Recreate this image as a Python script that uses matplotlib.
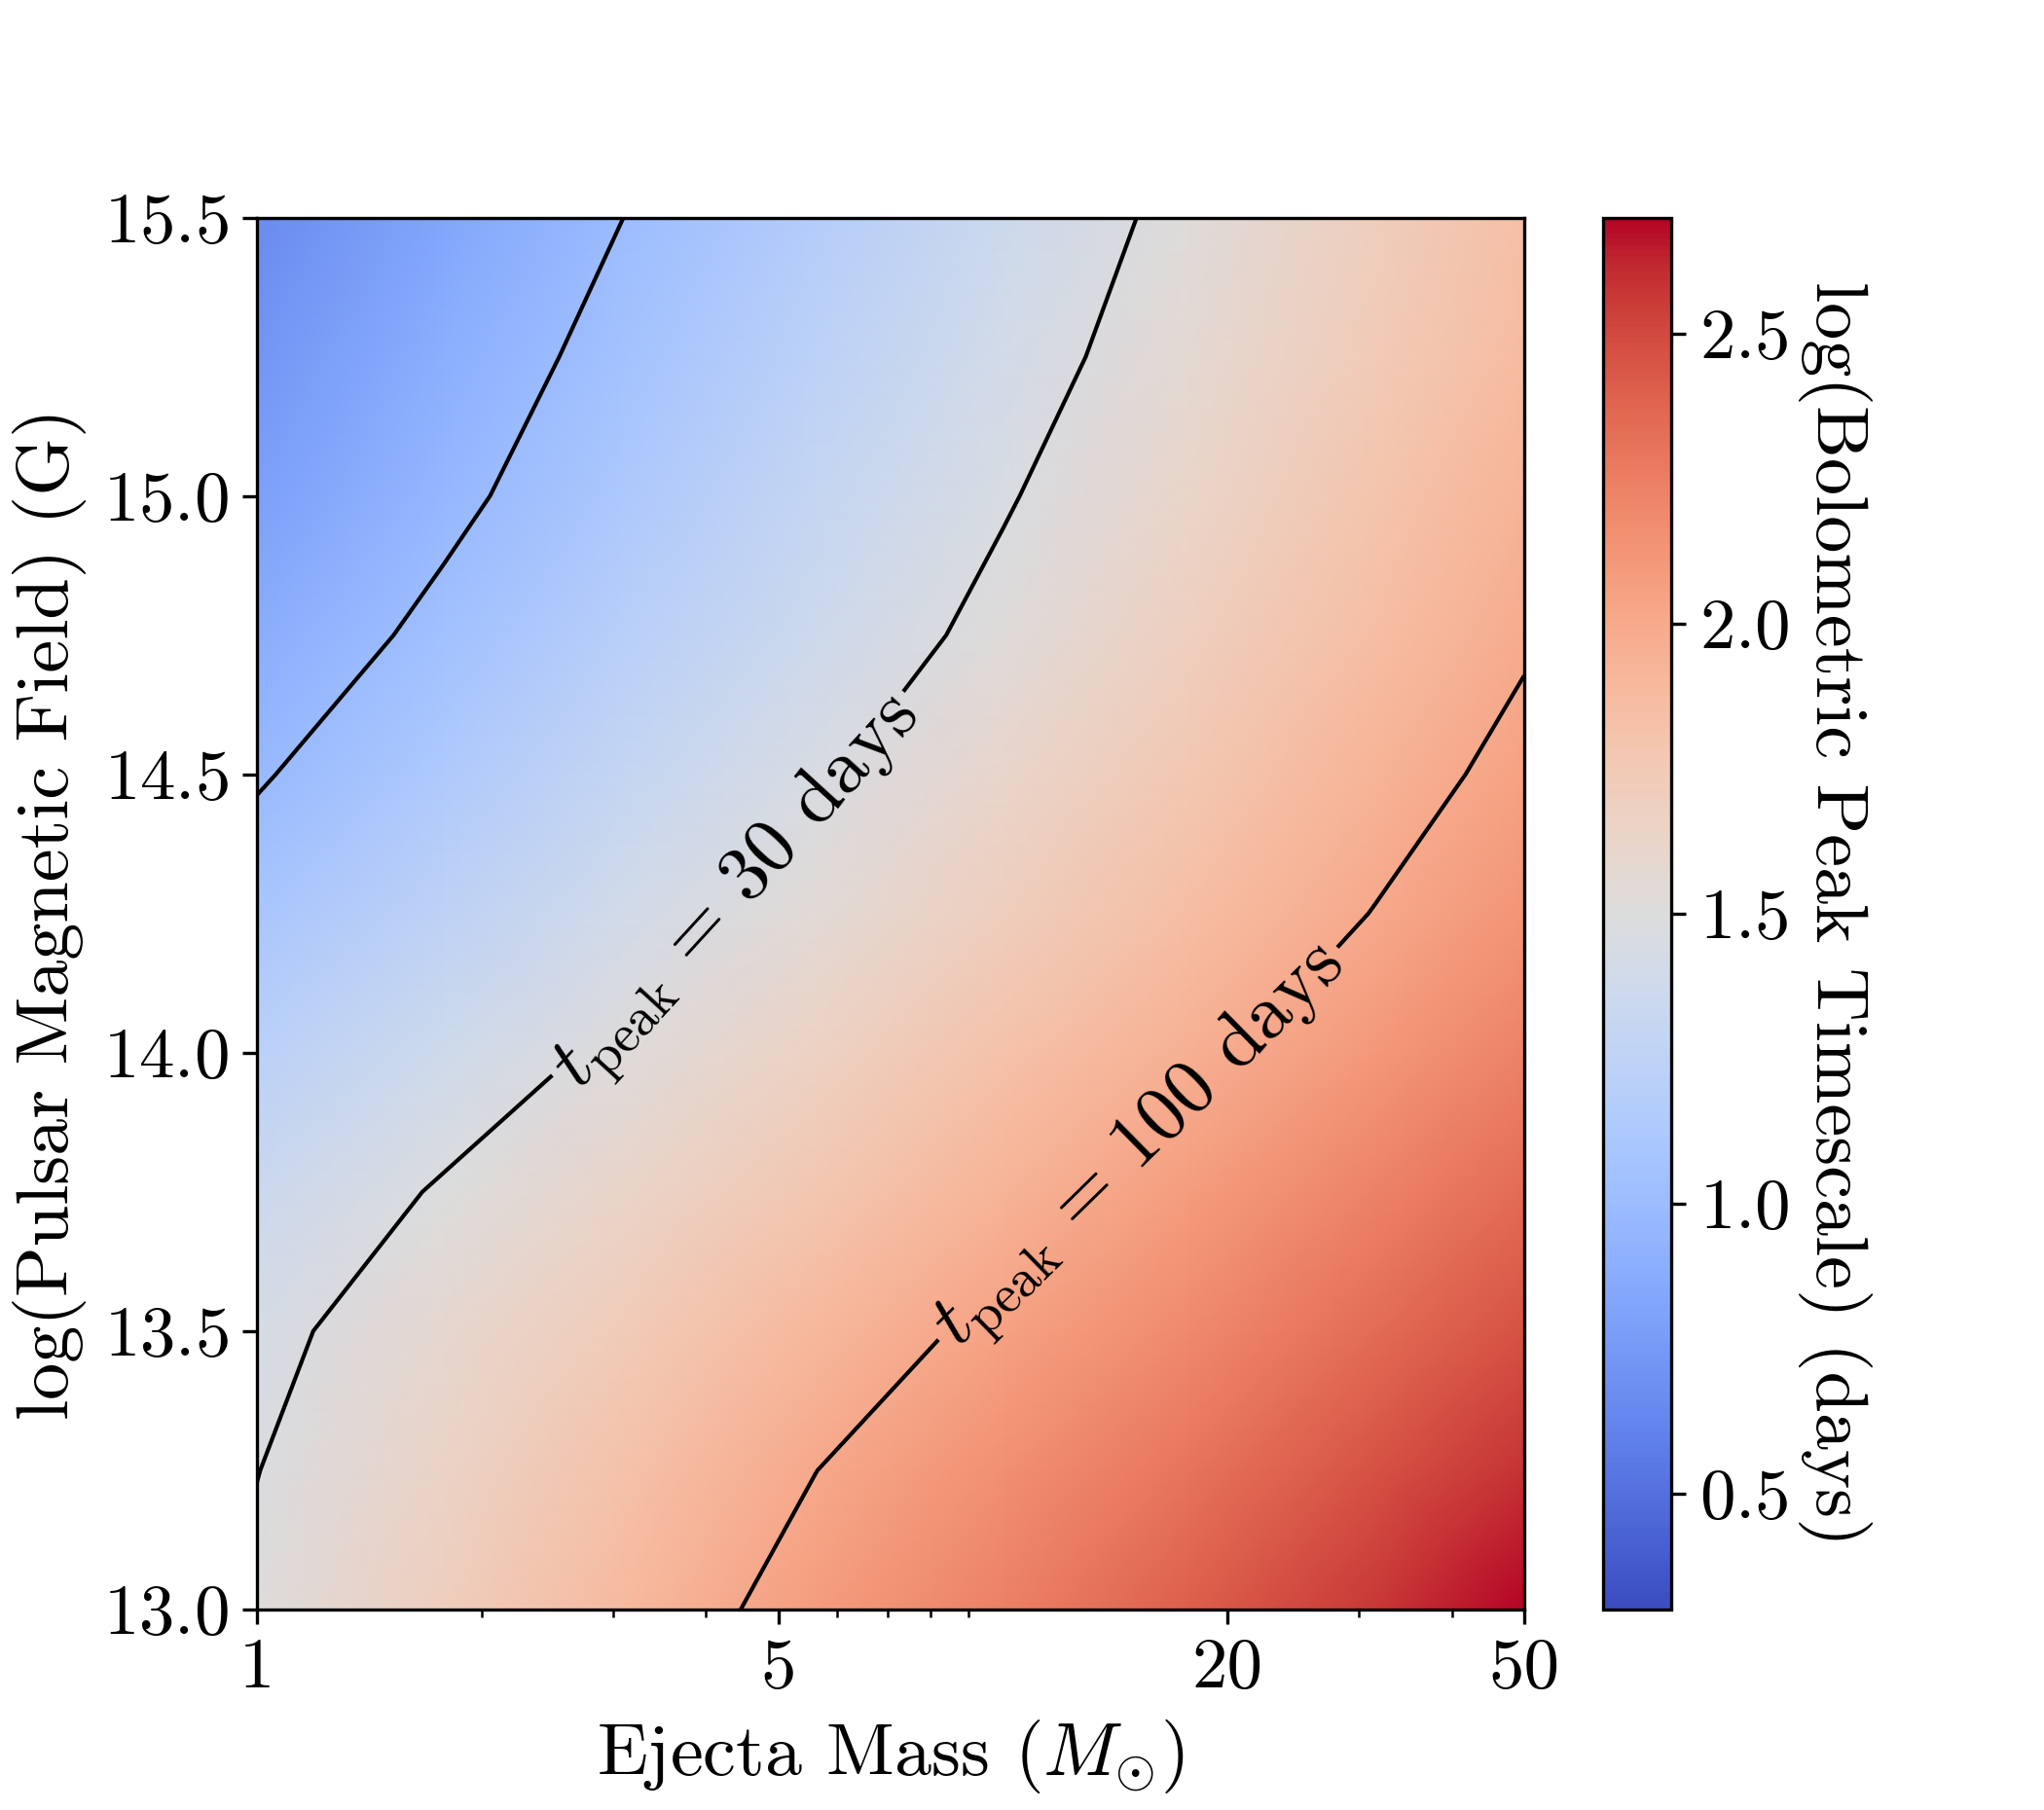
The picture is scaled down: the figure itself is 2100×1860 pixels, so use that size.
"""
Peak timescale of a magnetar-powered transient over ejecta mass and field.
"""

import numpy as np
import matplotlib
matplotlib.use('Agg')
import matplotlib.pyplot as plt
from matplotlib import transforms as mtransforms
from matplotlib.scale import LogTransform

plt.rcParams['font.family'] = 'serif'
plt.rcParams['font.serif'] = ['cmr10', 'DejaVu Serif']
plt.rcParams['mathtext.fontset'] = 'cm'
plt.rcParams['axes.formatter.use_mathtext'] = True
plt.rcParams['axes.unicode_minus'] = False

# grid
log_mass = [0.0, 0.25, 0.5, 0.75, 1.0, 1.25, 1.5, 1.699]   # log10(M_ej / M_sun)
log_field = [13.0, 13.25, 13.5, 13.75, 14.0, 14.25, 14.5, 14.75, 15.0, 15.25, 15.5]
log_tpeak = [
    [1.510, 1.700, 1.893, 2.073, 2.238, 2.403, 2.568, 2.700],
    [1.474, 1.649, 1.824, 1.999, 2.152, 2.305, 2.457, 2.579],
    [1.430, 1.586, 1.740, 1.894, 2.046, 2.193, 2.340, 2.457],
    [1.345, 1.494, 1.637, 1.781, 1.925, 2.074, 2.229, 2.352],
    [1.220, 1.370, 1.519, 1.665, 1.812, 1.959, 2.107, 2.227],
    [1.091, 1.246, 1.401, 1.554, 1.705, 1.855, 2.006, 2.126],
    [0.984, 1.142, 1.299, 1.457, 1.613, 1.769, 1.925, 2.049],
    [0.882, 1.043, 1.204, 1.365, 1.526, 1.689, 1.851, 1.980],
    [0.791, 0.958, 1.126, 1.294, 1.462, 1.629, 1.797, 1.930],
    [0.726, 0.895, 1.064, 1.233, 1.402, 1.571, 1.740, 1.874],
    [0.659, 0.832, 1.006, 1.179, 1.353, 1.526, 1.700, 1.838],
]
plain_days = [10]
labelled_days = [30, 100]
mass_ticks = [1, 5, 20, 50]
field_ticks = [13.0, 13.5, 14.0, 14.5, 15.0, 15.5]
cbar_ticks = [0.5, 1.0, 1.5, 2.0, 2.5]

mass = 10 ** np.array(log_mass)
field = np.array(log_field)
z = np.array(log_tpeak)

fig = plt.figure(figsize=(7, 6.2), dpi=300)
ax = fig.add_axes([0.1257, 0.1108, 0.62, 0.769])
cax = fig.add_axes([0.7843, 0.1108, 0.0333, 0.769])

ax.set_xscale('log')
mesh = ax.pcolormesh(mass, field, z, shading='gouraud', cmap='coolwarm',
                     vmin=0.3, vmax=2.7, rasterized=True)

# contour in log-mass space so the lines interpolate the same way the colours do
log_to_mass = mtransforms.blended_transform_factory(
    LogTransform(10).inverted(), mtransforms.IdentityTransform())
trans = log_to_mass + ax.transData
ax.contour(log_mass, field, z, levels=np.log10(plain_days), colors='k',
           linewidths=1.0, transform=trans)
cs = ax.contour(log_mass, field, z, levels=np.log10(labelled_days), colors='k',
                linewidths=1.0, transform=trans)
fmt = {lev: r'$t_{\rm peak} \, = \, %d$ days' % d for lev, d in zip(cs.levels, labelled_days)}
ax.clabel(cs, fmt=fmt, inline=True, fontsize=19, inline_spacing=8,
          manual=[(4.3, 14.3), (15.1, 13.84)])

ax.set_xlim(1, 50)
ax.set_ylim(13.0, 15.5)
ax.set_xticks(mass_ticks, labels=[str(m) for m in mass_ticks])
ax.set_yticks(field_ticks)
ax.tick_params(axis='both', which='major', labelsize=17.5, length=3.5, width=0.8)
ax.tick_params(axis='both', which='minor', length=2, width=0.6)
ax.set_xlabel(r'Ejecta Mass ($M_{\odot}$)', fontsize=18.3)
ax.set_ylabel('log(Pulsar Magnetic Field) (G)', fontsize=18.3)

cbar = fig.colorbar(mesh, cax=cax, ticks=cbar_ticks)
cbar.ax.tick_params(labelsize=17.5, length=3.5, width=0.8)
cbar.set_label('log(Bolometric Peak Timescale) (days)', fontsize=18.3,
               rotation=270, labelpad=2, va='bottom')

fig.savefig('out.png', dpi=300)
